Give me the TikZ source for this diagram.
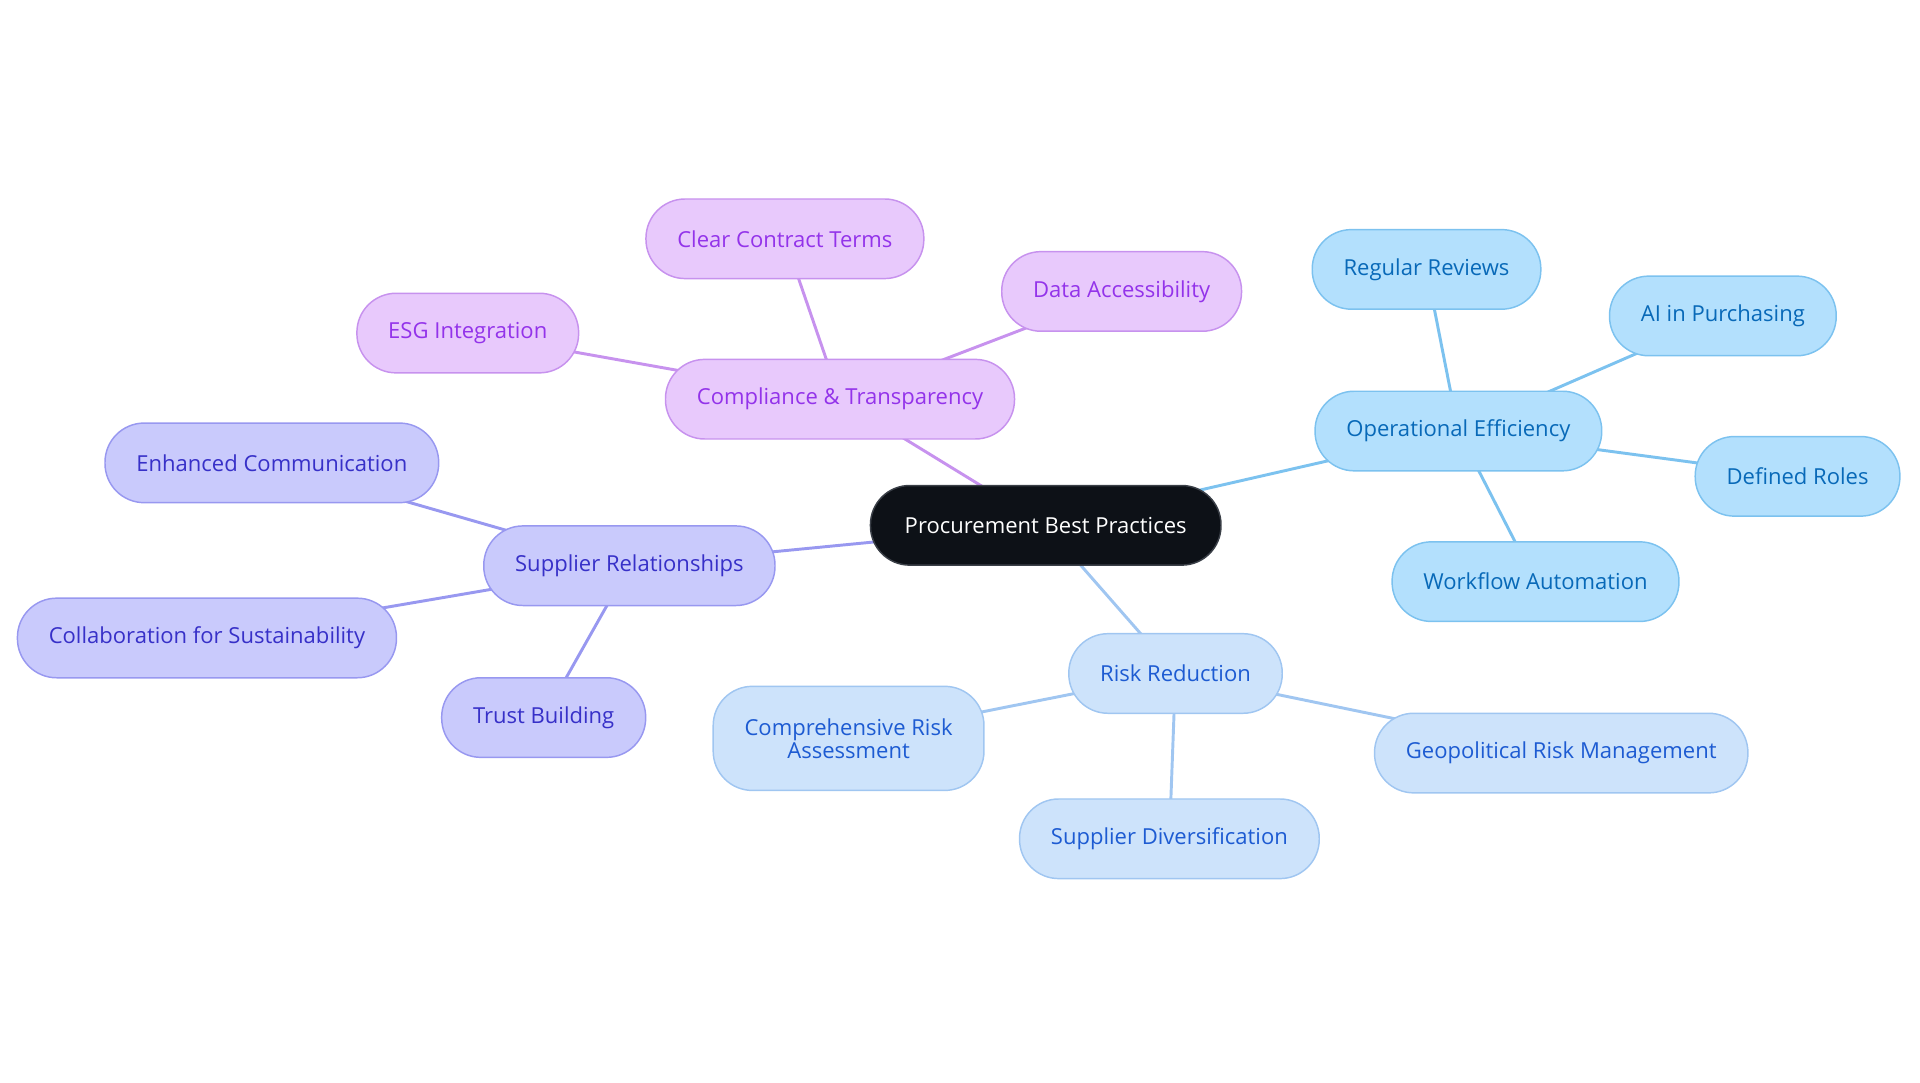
\documentclass[tikz,border=0pt]{standalone}
\usepackage{fontspec}
\setmainfont{Open Sans}
\usetikzlibrary{backgrounds}

\definecolor{rootfill}{HTML}{0D1117}
\definecolor{rootline}{HTML}{3A3F47}
\definecolor{compfill}{HTML}{E8C9FC}
\definecolor{compline}{HTML}{C792EE}
\definecolor{comptext}{HTML}{9333EA}
\definecolor{suppfill}{HTML}{C9CAFC}
\definecolor{suppline}{HTML}{9898F0}
\definecolor{supptext}{HTML}{3730C8}
\definecolor{opfill}{HTML}{B3E0FD}
\definecolor{opline}{HTML}{7CC2EF}
\definecolor{optext}{HTML}{0869B8}
\definecolor{riskfill}{HTML}{CDE3FB}
\definecolor{riskline}{HTML}{A0C6F1}
\definecolor{risktext}{HTML}{1D5BD2}

\begin{document}
\begin{tikzpicture}[x=0.5pt,y=-0.5pt,font=\fontsize{9}{9.5}\selectfont,
	pill/.style={rounded corners=16pt, minimum height=32.5pt, inner xsep=12.8pt, line width=0.6pt, align=center},
	root/.style={pill, fill=rootfill, draw=rootline, text=white, inner xsep=14pt},
	comp/.style={pill, fill=compfill, draw=compline, text=comptext},
	supp/.style={pill, fill=suppfill, draw=suppline, text=supptext},
	oper/.style={pill, fill=opfill, draw=opline, text=optext},
	risk/.style={pill, fill=riskfill, draw=riskline, text=risktext},
	branch/.style={line width=1.2pt}]
	  \useasboundingbox (0,0) rectangle (1568,884.4);   % page frame

	  \node[root] (proc) at (854,429) {Procurement Best Practices};

	  % compliance branch
	  \node[comp] (compl) at (686,326) {Compliance \& Transparency};
	  \node[comp] (terms) at (641,195) {Clear Contract Terms};
	  \node[comp] (data)  at (916,238) {Data Accessibility};
	  \node[comp] (esg)   at (382,272) {ESG Integration};

	  % supplier branch
	  \node[supp] (supp)   at (514,462) {Supplier Relationships};
	  \node[supp] (comm)   at (222,378) {Enhanced Communication};
	  \node[supp] (collab) at (169,521) {Collaboration for Sustainability};
	  \node[supp] (trust)  at (444,586) {Trust Building};

	  % operations branch
	  \node[oper] (oper)  at (1191,352) {Operational Efficiency};
	  \node[oper] (revw)  at (1165,220) {Regular Reviews};
	  \node[oper] (ai)    at (1407,258) {AI in Purchasing};
	  \node[oper] (roles) at (1468,389) {Defined Roles};
	  \node[oper] (flow)  at (1254,475) {Workflow Automation};

	  % risk branch
	  \node[risk] (risk)  at (960,550) {Risk Reduction};
	  \node[risk, minimum height=42.5pt] (assess) at (693,603) {Comprehensive Risk\\Assessment};
	  \node[risk] (geo)   at (1275,615) {Geopolitical Risk Management};
	  \node[risk] (div)   at (955,685) {Supplier Diversification};

	\begin{scope}[on background layer]
	  \foreach \a/\b in {proc/compl,compl/terms,compl/data,compl/esg}
	  \draw[branch, compline] (\a.center) -- (\b.center);
	  \foreach \a/\b in {proc/supp,supp/comm,supp/collab,supp/trust}
	  \draw[branch, suppline] (\a.center) -- (\b.center);
	  \foreach \a/\b in {proc/oper,oper/revw,oper/ai,oper/roles,oper/flow}
	  \draw[branch, opline] (\a.center) -- (\b.center);
	  \foreach \a/\b in {proc/risk,risk/assess,risk/geo,risk/div}
	  \draw[branch, riskline] (\a.center) -- (\b.center);
	\end{scope}
	\end{tikzpicture}
\end{document}
